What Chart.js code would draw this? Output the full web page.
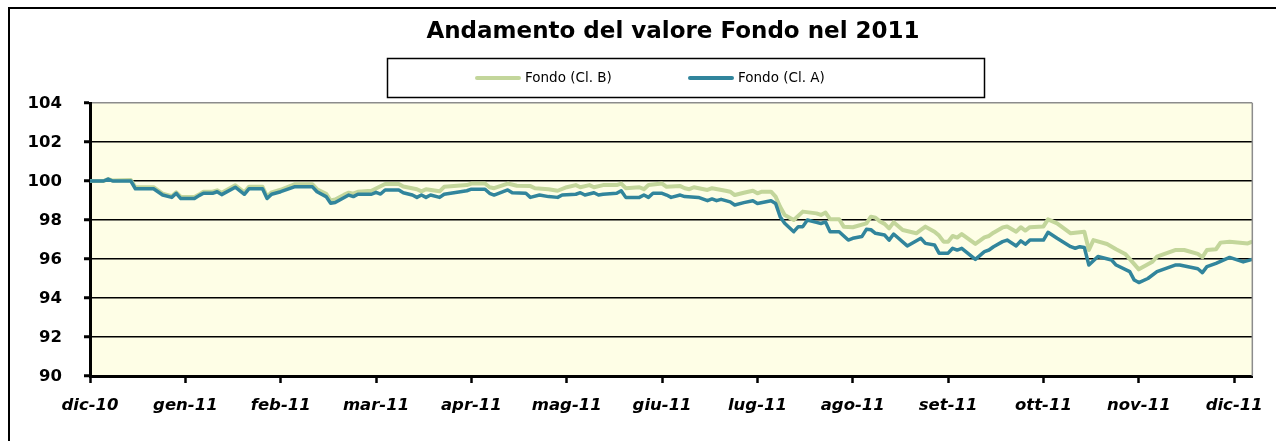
<!DOCTYPE html>
<html>
<head>
<meta charset="utf-8">
<script src="https://cdn.jsdelivr.net/npm/chart.js@4/dist/chart.umd.min.js"></script>
<style>
  html, body { margin: 0; padding: 0; background: #fff; }
  #wrap { width: 1276px; height: 441px; }
</style>
</head>
<body>
<div id="wrap"><canvas id="fondoChart" width="1276" height="441"></canvas></div>
<script>
// month labels on the x axis, one every 21 trading days
const monthLabels = ['dic-10', 'gen-11', 'feb-11', 'mar-11', 'apr-11', 'mag-11', 'giu-11',
    'lug-11', 'ago-11', 'set-11', 'ott-11', 'nov-11', 'dic-11'];
const monthTicks = [0, 21, 42, 63, 84, 105, 126, 147, 168, 189, 210, 231, 252];
const lastDay = 256;

// Fondo (Cl. B) - trading day index / value
const daysB = [0, 3, 4, 5, 9, 10, 14, 16, 18, 19, 20, 23, 24, 25, 27, 28, 29, 32, 34, 35, 38, 39, 40, 42, 45, 49,
    50, 52, 53, 54, 56, 57, 58, 59, 62, 63, 65, 68, 69, 72, 73, 74, 77, 78, 83, 84, 87, 88, 89, 92, 94, 97, 98,
    101, 103, 105, 107, 108, 110, 111, 113, 116, 117, 118, 121, 122, 123, 126, 127, 130, 131, 132, 133, 136, 137,
    140, 141, 142, 144, 146, 147, 148, 150, 151, 152, 153, 155, 157, 160, 161, 162, 163, 165, 166, 168, 171, 172,
    173, 174, 175, 176, 177, 179, 182, 183, 184, 186, 187, 188, 189, 190, 191, 192, 195, 197, 198, 199, 201, 202,
    204, 205, 206, 207, 210, 211, 213, 216, 217, 219, 220, 221, 224, 226, 228, 230, 231, 234, 235, 239, 241, 244,
    245, 246, 248, 249, 251, 255, 256];
const fondoB = [100.0, 100.0, 100.1, 100.02, 100.05, 99.68, 99.68, 99.35, 99.22, 99.42, 99.18, 99.18, 99.3, 99.45,
    99.45, 99.52, 99.4, 99.78, 99.42, 99.7, 99.7, 99.2, 99.42, 99.55, 99.83, 99.83,
    99.58, 99.35, 99.0, 99.05, 99.3, 99.4, 99.35, 99.45, 99.5, 99.62, 99.85, 99.85, 99.72, 99.58, 99.47, 99.58,
    99.47, 99.7, 99.79, 99.87, 99.87, 99.68, 99.63, 99.87, 99.76, 99.74, 99.63,
    99.58, 99.5, 99.68, 99.79, 99.68, 99.79, 99.68, 99.79, 99.79, 99.87, 99.63, 99.68, 99.58, 99.79, 99.87, 99.7,
    99.74, 99.63, 99.58, 99.68, 99.54, 99.63,
    99.5, 99.45, 99.28, 99.4, 99.5, 99.37, 99.45, 99.45, 99.2, 98.68, 98.26, 98.0, 98.43, 98.34, 98.26, 98.38,
    98.04, 98.04, 97.66, 97.63, 97.83, 98.17,
    98.12, 97.92, 97.8, 97.57, 97.88, 97.49, 97.32, 97.49, 97.66, 97.4, 97.2, 96.89, 96.89, 97.18, 97.1, 97.28,
    96.77, 97.11, 97.18, 97.35, 97.62, 97.67,
    97.4, 97.63, 97.46, 97.63, 97.67, 98.03, 97.83, 97.32, 97.35, 97.4, 96.46, 96.97, 96.77, 96.5, 96.26, 95.74,
    95.47, 95.86, 96.12, 96.46, 96.46, 96.26,
    96.09, 96.46, 96.5, 96.84, 96.89, 96.8, 96.89];

// Fondo (Cl. A) - trading day index / value
const daysA = [0, 3, 4, 5, 9, 10, 14, 16, 18, 19, 20, 23, 24, 25, 27, 28, 29, 32, 34, 35, 38, 39, 40, 42, 45, 49,
    50, 52, 53, 54, 56, 57, 58, 59, 62, 63, 64, 65, 68, 69, 71, 72, 73, 74, 75, 77, 78, 83, 84, 87, 88, 89, 92,
    93, 96, 97, 99, 101, 103, 104, 107, 108, 109, 111, 112, 113, 116, 117, 118, 121, 122, 123, 124, 126, 127,
    128, 130, 131, 134, 136, 137, 138, 139, 141, 142, 144, 146, 147, 150, 151, 152, 153, 155, 156, 157, 158,
    160, 161, 162, 163, 165, 167, 168, 170, 171, 172, 173, 175, 176, 177, 180, 183, 184, 186, 187, 189, 190,
    191, 192, 195, 197, 198, 199, 201, 202, 204, 205, 206, 207, 210, 211, 213, 216, 217, 218, 219, 220, 222,
    225, 226, 229, 230, 231, 233, 235, 239, 240, 244, 245, 246, 248, 250, 251, 254, 256];
const fondoA = [100.0, 100.0, 100.1, 100.0, 100.0, 99.6, 99.6, 99.28, 99.16, 99.37, 99.1, 99.1, 99.25, 99.37,
    99.37, 99.45, 99.3, 99.68, 99.32, 99.6, 99.6, 99.1, 99.32, 99.45, 99.7, 99.7,
    99.45, 99.2, 98.86, 98.9, 99.15, 99.28, 99.2, 99.32, 99.32, 99.42, 99.33, 99.54, 99.54, 99.4, 99.28, 99.16,
    99.28, 99.16, 99.28, 99.16, 99.32, 99.5, 99.58, 99.58, 99.37, 99.28, 99.54,
    99.4, 99.37, 99.16, 99.28, 99.2, 99.16, 99.28, 99.32, 99.4, 99.28, 99.4, 99.28, 99.32, 99.37, 99.5, 99.16,
    99.16, 99.28, 99.16, 99.37, 99.37, 99.28,
    99.16, 99.28, 99.2, 99.16, 98.99, 99.08, 98.99, 99.06, 98.93, 98.77, 98.89, 98.99, 98.85, 98.99, 98.85,
    98.17, 97.83, 97.4, 97.66, 97.66, 98.0,
    97.88, 97.82, 97.9, 97.4, 97.4, 96.97, 97.06, 97.15, 97.52, 97.5, 97.32, 97.23, 96.97, 97.28, 96.67, 97.06,
    96.8, 96.72, 96.3, 96.3, 96.55,
    96.46, 96.55, 95.98, 96.38, 96.46, 96.63, 96.89, 96.97, 96.67, 96.93, 96.76, 96.97, 96.97, 97.37, 97.06,
    96.63, 96.55, 96.63, 96.59, 95.69, 96.13,
    95.95, 95.69, 95.35, 94.92, 94.79, 95.0, 95.35, 95.69, 95.69, 95.5, 95.3, 95.61, 95.78, 95.98, 96.08, 95.85, 95.98];

const seriesNames = ['Fondo (Cl. B)', 'Fondo (Cl. A)'];
const yTicks = [90, 92, 94, 96, 98, 100, 102, 104];
const chartTitle = 'Andamento del valore Fondo nel 2011';

const FONT = '"DejaVu Sans", Verdana, sans-serif';

function toPoints(days, vals) {
    return days.map((d, i) => ({ x: d, y: vals[i] }));
}

// plot background, outer frame, title, y labels, plot border and boxed legend
const decorPlugin = {
    id: 'decor',
    beforeDraw(chart) {
        const { ctx, chartArea: a } = chart;
        ctx.save();
        ctx.fillStyle = '#fefee6';
        ctx.fillRect(a.left, a.top, a.right - a.left, a.bottom - a.top);
        // outer frame (left and top edges only)
        ctx.strokeStyle = '#000';
        ctx.lineWidth = 2;
        ctx.beginPath();
        ctx.moveTo(9, chart.height);
        ctx.lineTo(9, 8);
        ctx.lineTo(chart.width, 8);
        ctx.stroke();
        ctx.restore();
    },
    afterDraw(chart) {
        const { ctx, chartArea: a } = chart;
        const yScale = chart.scales.y;
        ctx.save();
        // right plot border
        ctx.strokeStyle = '#8c8c8c';
        ctx.lineWidth = 1.5;
        ctx.beginPath();
        ctx.moveTo(a.right, a.top);
        ctx.lineTo(a.right, a.bottom);
        ctx.stroke();

        // title
        ctx.fillStyle = '#000';
        ctx.font = 'bold 23px ' + FONT;
        ctx.textAlign = 'center';
        ctx.textBaseline = 'alphabetic';
        ctx.fillText(chartTitle, 673, 38);

        // y tick labels
        ctx.font = 'bold 16.5px ' + FONT;
        ctx.textAlign = 'right';
        ctx.textBaseline = 'middle';
        yTicks.forEach(v => {
            ctx.fillText(String(v), a.left - 28, yScale.getPixelForValue(v) + 1);
        });

        // legend box
        ctx.strokeStyle = '#000';
        ctx.lineWidth = 1.5;
        ctx.strokeRect(387.5, 58.5, 597, 39);
        const items = [{ x: 477, ds: chart.data.datasets[0] }, { x: 690, ds: chart.data.datasets[1] }];
        ctx.font = '13.5px ' + FONT;
        ctx.textAlign = 'left';
        ctx.lineCap = 'round';
        items.forEach(it => {
            ctx.strokeStyle = it.ds.borderColor;
            ctx.lineWidth = 4;
            ctx.beginPath();
            ctx.moveTo(it.x, 78);
            ctx.lineTo(it.x + 42, 78);
            ctx.stroke();
            ctx.fillStyle = '#000';
            ctx.fillText(it.ds.label, it.x + 48, 78);
        });
        ctx.restore();
    }
};

new Chart(document.getElementById('fondoChart'), {
    type: 'line',
    data: {
        datasets: [{
            label: seriesNames[0],
            data: toPoints(daysB, fondoB),
            borderColor: '#c3d69b',
            borderWidth: 4,
            order: 2,
        }, {
            label: seriesNames[1],
            data: toPoints(daysA, fondoA),
            borderColor: '#31859c',
            borderWidth: 3.5,
            order: 1,
        }],
    },
    options: {
        responsive: false,
        animation: false,
        layout: { padding: { left: 10, right: 20, top: 103, bottom: 20 } },
        elements: {
            point: { radius: 0 },
            line: { tension: 0, borderJoinStyle: 'round' },
        },
        plugins: {
            legend: { display: false },
            tooltip: { enabled: false },
            title: { display: false },
        },
        scales: {
            x: {
                type: 'linear',
                min: 0,
                max: lastDay,
                afterBuildTicks(scale) {
                    scale.ticks = monthTicks.map(v => ({ value: v }));
                },
                afterFit(scale) { scale.height = 45; },
                border: { display: true, color: '#000', width: 3 },
                grid: {
                    drawOnChartArea: false,
                    drawTicks: true,
                    tickLength: 7,
                    tickWidth: 2.5,
                    tickColor: '#000',
                },
                ticks: {
                    autoSkip: false,
                    maxRotation: 0,
                    padding: 13,
                    color: '#000',
                    font: { family: FONT, size: 16.5, weight: 'bold', style: 'italic' },
                    callback: (v) => monthLabels[monthTicks.indexOf(v)],
                },
            },
            y: {
                min: 90,
                max: 104,
                afterBuildTicks(scale) {
                    scale.ticks = yTicks.map(v => ({ value: v }));
                },
                afterFit(scale) { scale.width = 80; },
                border: { display: true, color: '#000', width: 3 },
                grid: {
                    color: (c) => (c.tick && c.tick.value === 104 ? '#8c8c8c' : '#000'),
                    lineWidth: 1.5,
                    tickLength: 6,
                    tickWidth: 3,
                    tickColor: '#000',
                },
                ticks: { display: false },
            },
        },
    },
    plugins: [decorPlugin],
});
</script>
</body>
</html>
